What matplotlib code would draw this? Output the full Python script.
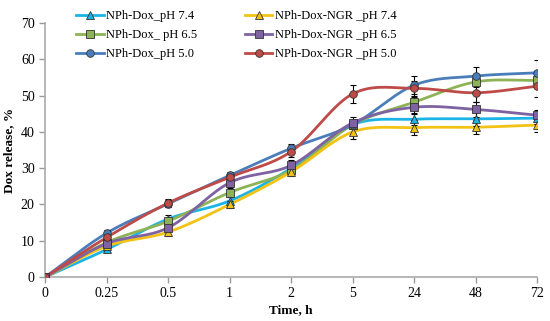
import matplotlib
matplotlib.use("Agg")
import matplotlib.pyplot as plt
import numpy as np

plt.rcParams["font.family"] = ["Liberation Serif", "DejaVu Serif"]

time_labels = ["0", "0.25", "0.5", "1", "2", "5", "24", "48", "72"]

dox_74 = [0, 7.6, 16.0, 21.0, 30.0, 42.0, 43.5, 43.6, 43.8]
dox_65 = [0, 9.5, 15.4, 23.3, 29.5, 42.0, 48.2, 53.8, 54.2]
dox_50 = [0, 12.1, 20.2, 28.0, 35.5, 42.0, 52.9, 55.4, 56.3]
ngr_74 = [0, 8.5, 12.4, 20.0, 29.0, 40.0, 41.2, 41.3, 41.9]
ngr_65 = [0, 9.2, 13.6, 26.0, 30.8, 42.5, 46.8, 46.2, 44.6]
ngr_50 = [0, 10.9, 20.4, 27.5, 34.6, 50.5, 52.0, 50.8, 52.6]

err_dox_74 = [0, 0.8, 1.0, 1.0, 1.2, 1.0, 1.5, 2.0, 1.5]
err_dox_65 = [0, 0.8, 1.0, 1.2, 1.2, 1.2, 1.5, 1.5, 1.5]
err_dox_50 = [0, 0.8, 1.0, 1.0, 1.2, 1.2, 2.5, 2.5, 3.5]
err_ngr_74 = [0, 0.8, 1.0, 1.0, 1.2, 2.0, 2.0, 2.0, 2.0]
err_ngr_65 = [0, 0.8, 1.0, 1.2, 1.5, 1.5, 1.5, 2.0, 1.5]
err_ngr_50 = [0, 0.8, 1.2, 1.2, 1.5, 2.5, 2.0, 2.5, 3.0]

# legend fills column by column: Dox first, then Dox-NGR
series = [
    ("NPh-Dox_pH 7.4", dox_74, err_dox_74, "#1CB4E6", "^"),
    ("NPh-Dox_ pH 6.5", dox_65, err_dox_65, "#8DB356", "s"),
    ("NPh-Dox_pH 5.0", dox_50, err_dox_50, "#4A7EBB", "o"),
    ("NPh-Dox-NGR _pH 7.4", ngr_74, err_ngr_74, "#F2C314", "^"),
    ("NPh-Dox-NGR _pH 6.5", ngr_65, err_ngr_65, "#7E62A1", "s"),
    ("NPh-Dox-NGR _pH 5.0", ngr_50, err_ngr_50, "#BE4B48", "o"),
]


def smooth(x, y, n=20):
    # Catmull-Rom curve through the points, like Excel's smoothed line
    x = np.asarray(x, float)
    y = np.asarray(y, float)
    px = np.concatenate([[2 * x[0] - x[1]], x, [2 * x[-1] - x[-2]]])
    py = np.concatenate([[2 * y[0] - y[1]], y, [2 * y[-1] - y[-2]]])
    xs, ys = [], []
    t = np.linspace(0, 1, n)
    for i in range(1, len(px) - 2):
        for p, out in ((px, xs), (py, ys)):
            p0, p1, p2, p3 = p[i - 1], p[i], p[i + 1], p[i + 2]
            out.append(0.5 * ((2 * p1) + (-p0 + p2) * t
                              + (2 * p0 - 5 * p1 + 4 * p2 - p3) * t ** 2
                              + (-p0 + 3 * p1 - 3 * p2 + p3) * t ** 3))
    return np.concatenate(xs), np.concatenate(ys)


fig = plt.figure(figsize=(5.5, 3.21), dpi=100)
ax = fig.add_axes([0.082, 0.137, 0.895, 0.791])

x = np.arange(len(time_labels))
handles = []
for label, vals, err, color, marker in series:
    sx, sy = smooth(x, vals)
    ax.plot(sx, sy, color=color, linewidth=2.0, zorder=2)
    ax.errorbar(x, vals, yerr=err, fmt="none", ecolor="black",
                elinewidth=0.8, capsize=2.5, capthick=0.8, zorder=3)
    ax.plot(x, vals, linestyle="none", marker=marker, markersize=5.5,
            markerfacecolor=color, markeredgecolor="#333333",
            markeredgewidth=0.6, zorder=4)
    h, = ax.plot([], [], color=color, linewidth=2.0, marker=marker,
                 markersize=5.5, markerfacecolor=color,
                 markeredgecolor="#333333", markeredgewidth=0.6)
    handles.append((h, label))

ax.set_xlim(0, len(time_labels) - 1)
ax.set_ylim(0, 70)
ax.set_xticks(x)
ax.set_xticklabels(time_labels)
ax.set_yticks(range(0, 71, 10))
ax.tick_params(labelsize=10, color="#999999", length=4, width=1)
for s in ["top", "right"]:
    ax.spines[s].set_visible(False)
for s in ["left", "bottom"]:
    ax.spines[s].set_color("#aaaaaa")
    ax.spines[s].set_linewidth(1.2)

ax.set_xlabel("Time, h", fontweight="bold", fontsize=9.5, labelpad=3)
ax.set_ylabel("Dox release, %", fontweight="bold", fontsize=9.5, labelpad=4)

leg = fig.legend([h for h, _ in handles], [l for _, l in handles],
                 ncol=2, loc="upper left", bbox_to_anchor=(0.118, 1.003),
                 frameon=False, fontsize=9, handlelength=2.2,
                 handletextpad=0.2, columnspacing=3.8, labelspacing=0.55)
plt.savefig("out.png", dpi=100)
